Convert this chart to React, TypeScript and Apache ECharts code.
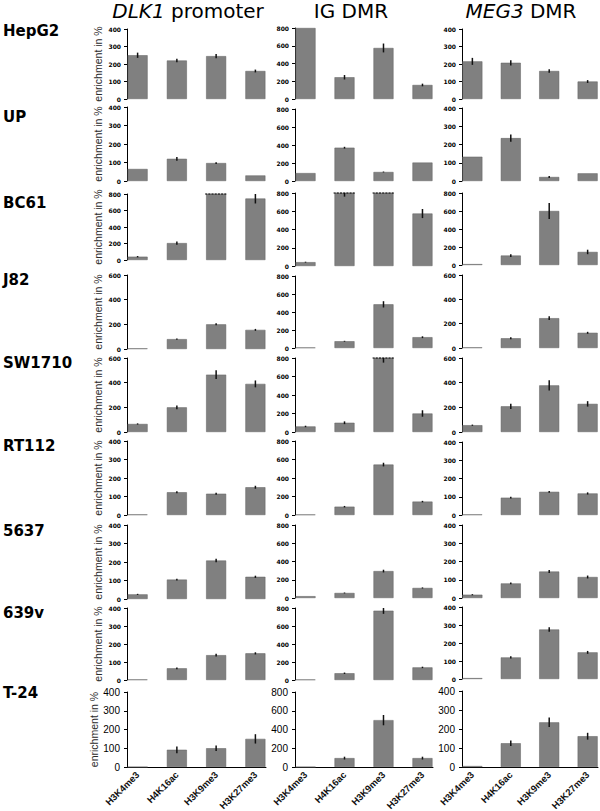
import React, { useEffect, useRef } from 'react';
import * as echarts from 'echarts';

// ---------- data ----------
const categories = ['H3K4me3', 'H4K16ac', 'H3K9me3', 'H3K27me3'];
const cellLines = ['HepG2', 'UP', 'BC61', 'J82', 'SW1710', 'RT112', '5637', '639v', 'T-24'];
const regionItalic = ['DLK1', '', 'MEG3'];
const regionPlain = [' promoter', 'IG DMR', ' DMR'];
const yAxisName = 'enrichment in %';

const dlk1Values = [
  [250, 220, 245, 160],
  [65, 120, 97, 30],
  [40, 205, 850, 745],
  [5, 80, 200, 155],
  [65, 200, 465, 390],
  [3, 123, 115, 150],
  [25, 105, 208, 120],
  [3, 65, 138, 148],
  [0, 92, 100, 150],
];
const dlk1Errors = [
  [15, 10, 12, 8],
  [0, 10, 5, 0],
  [8, 20, 30, 60],
  [0, 5, 8, 8],
  [5, 15, 35, 28],
  [0, 6, 5, 8],
  [3, 5, 10, 6],
  [0, 5, 8, 6],
  [0, 18, 15, 25],
];
const dlk1Max = [400, 400, 800, 600, 600, 400, 400, 400, 400];

const igValues = [
  [800, 245, 575, 158],
  [88, 370, 100, 205],
  [42, 820, 850, 575],
  [5, 75, 485, 120],
  [60, 100, 830, 200],
  [5, 90, 545, 145],
  [20, 55, 295, 110],
  [5, 75, 770, 140],
  [0, 95, 500, 95],
];
const igErrors = [
  [0, 25, 50, 15],
  [0, 10, 5, 0],
  [5, 60, 30, 50],
  [0, 5, 35, 10],
  [8, 15, 80, 35],
  [0, 8, 20, 8],
  [0, 5, 15, 6],
  [0, 8, 35, 8],
  [0, 15, 55, 15],
];
const igMax = [800, 800, 800, 800, 800, 800, 800, 800, 800];

const meg3Values = [
  [215, 207, 160, 100],
  [133, 235, 22, 42],
  [10, 105, 600, 145],
  [5, 80, 245, 125],
  [55, 208, 378, 228],
  [3, 95, 127, 118],
  [18, 80, 145, 115],
  [5, 120, 275, 148],
  [5, 125, 235, 162],
];
const meg3Errors = [
  [20, 15, 10, 8],
  [0, 20, 5, 0],
  [0, 15, 90, 25],
  [0, 8, 15, 8],
  [5, 22, 42, 22],
  [0, 5, 5, 6],
  [3, 5, 8, 8],
  [0, 6, 12, 8],
  [0, 15, 25, 18],
];
const meg3Max = [400, 400, 800, 600, 600, 400, 400, 400, 400];

// ---------- layout ----------
const colLeft = [127, 295, 462];
const colWidth = [139, 138, 136];
const colTitleX = [188, 351, 521];
const gridTops = [
  [29, 107, 194, 275, 358, 441, 525, 608, 692],
  [28, 109, 193, 276, 358, 441, 525, 608, 692],
  [29, 108, 193, 275, 358, 442, 525, 607, 691],
];
const gridBottoms = [
  [99, 181, 260, 349, 432, 515, 599, 680, 767],
  [99, 181, 266, 348, 432, 515, 598, 680, 767],
  [99, 181, 265, 348, 432, 515, 598, 679, 767],
];
const rowLabelY = [31, 117, 203, 280, 363, 446, 531, 613, 693];

function buildOption() {
  const allValues = [dlk1Values, igValues, meg3Values];
  const allErrors = [dlk1Errors, igErrors, meg3Errors];
  const allMax = [dlk1Max, igMax, meg3Max];
  const grid: any[] = [];
  const xAxis: any[] = [];
  const yAxis: any[] = [];
  const series: any[] = [];

  for (let c = 0; c < 3; c++) {
    for (let r = 0; r < 9; r++) {
      const idx = grid.length;
      const max = allMax[c][r];
      const vals = allValues[c][r];
      const errs = allErrors[c][r];
      const last = r === 8;
      grid.push({
        left: colLeft[c],
        top: gridTops[c][r],
        width: colWidth[c],
        height: gridBottoms[c][r] - gridTops[c][r],
        containLabel: false,
        outerBoundsMode: 'none',
      });
      xAxis.push({
        gridIndex: idx,
        type: 'value',
        min: -0.27,
        max: 3.27,
        axisLine: { show: last, onZero: false, lineStyle: { color: '#000', width: 1 } },
        axisTick: { show: false },
        splitLine: { show: false },
        axisLabel: last
          ? {
              show: true,
              customValues: [0, 1, 2, 3],
              formatter: (v: number) => categories[Math.round(v)] ?? '',
              rotate: 45,
              fontSize: 9.5,
              fontWeight: 'bold',
              fontFamily: 'Liberation Sans',
              color: '#111',
              margin: 6,
            }
          : { show: false },
      });
      yAxis.push({
        gridIndex: idx,
        type: 'value',
        min: 0,
        max,
        interval: max === 400 ? 100 : 200,
        name: c === 0 ? yAxisName : '',
        nameLocation: 'middle',
        nameRotate: 90,
        nameGap: 24,
        nameTextStyle: { fontSize: 10.5, fontFamily: 'Liberation Sans', color: '#2a2a2a' },
        axisLine: { show: true, onZero: false, lineStyle: { color: '#000', width: 1 } },
        axisTick: { show: true, inside: false, length: 3, lineStyle: { color: '#000', width: 1 } },
        splitLine: { show: false },
        axisLabel: last
          ? { fontSize: 10, fontFamily: 'Liberation Sans', color: '#000', margin: 7 }
          : { fontSize: 6, fontWeight: 'bold', fontFamily: 'DejaVu Sans', color: '#000', margin: 6 },
      });
      series.push({
        type: 'bar',
        xAxisIndex: idx,
        yAxisIndex: idx,
        barWidth: 20,
        silent: true,
        clip: true,
        itemStyle: { color: '#808080', borderColor: '#5e5e5e', borderWidth: 0.5 },
        data: vals.map((v, i) => [i, v]),
      });
      series.push({
        type: 'custom',
        xAxisIndex: idx,
        yAxisIndex: idx,
        silent: true,
        z: 5,
        encode: { x: 0, y: 1 },
        data: vals.map((v, i) => [i, v, errs[i]]),
        renderItem: (params: any, api: any) => {
          const x = api.value(0);
          const v = api.value(1);
          const e = api.value(2);
          if (!e) return null;
          const hi = Math.min(v + e, max);
          const lo = Math.min(Math.max(v - e, 0), max);
          if (hi <= lo) return null;
          const p1 = api.coord([x, hi]);
          const p2 = api.coord([x, lo]);
          return {
            type: 'line',
            shape: { x1: p1[0], y1: p1[1], x2: p2[0], y2: p2[1] },
            style: { stroke: '#111', lineWidth: 1.5 },
          };
        },
      });
      const cut = vals.map((v, i) => [i, v]).filter((d) => d[1] > max).map((d) => [d[0], max]);
      if (cut.length) {
        series.push({
          type: 'custom',
          xAxisIndex: idx,
          yAxisIndex: idx,
          silent: true,
          z: 6,
          encode: { x: 0, y: 1 },
          data: cut,
          renderItem: (params: any, api: any) => {
            const p = api.coord([api.value(0), api.value(1)]);
            const half = api.size([0.28, 0])[0];
            return {
              type: 'line',
              shape: { x1: p[0] - half, y1: p[1], x2: p[0] + half, y2: p[1] },
              style: { stroke: '#000', lineWidth: 1, lineDash: [2, 1.2] },
            };
          },
        });
      }
    }
  }

  const graphic: any[] = [];
  for (let c = 0; c < 3; c++) {
    const text = (regionItalic[c] ? `{i|${regionItalic[c]}}` : '') + `{n|${regionPlain[c]}}`;
    graphic.push({
      type: 'text',
      x: colTitleX[c],
      y: 11,
      style: {
        text,
        rich: {
          i: { fontStyle: 'italic', fontSize: 20, fontFamily: 'DejaVu Sans', fill: '#000', color: '#000' },
          n: { fontSize: 20, fontFamily: 'DejaVu Sans', fill: '#000', color: '#000' },
        },
        fontSize: 20,
        fontFamily: 'DejaVu Sans',
        fill: '#000',
        align: 'center',
        textAlign: 'center',
        verticalAlign: 'middle',
        textVerticalAlign: 'middle',
      },
    });
  }
  for (let r = 0; r < 9; r++) {
    graphic.push({
      type: 'text',
      x: 3,
      y: rowLabelY[r],
      style: {
        text: cellLines[r],
        fontSize: 15,
        fontWeight: 'bold',
        fontFamily: 'DejaVu Sans',
        fill: '#000',
        align: 'left',
        textAlign: 'left',
        verticalAlign: 'middle',
        textVerticalAlign: 'middle',
      },
    });
  }

  return {
    animation: false,
    backgroundColor: '#fff',
    grid,
    xAxis,
    yAxis,
    series,
    graphic,
  };
}

export default function App() {
  const ref = useRef<HTMLDivElement>(null);
  useEffect(() => {
    const chart = echarts.init(ref.current!, null, { renderer: 'svg' });
    chart.setOption(buildOption() as any);
    return () => chart.dispose();
  }, []);
  return (
    <div
      ref={ref}
      style={{ position: 'absolute', left: 0, top: 0, width: 600, height: 811, background: '#fff' }}
    />
  );
}
